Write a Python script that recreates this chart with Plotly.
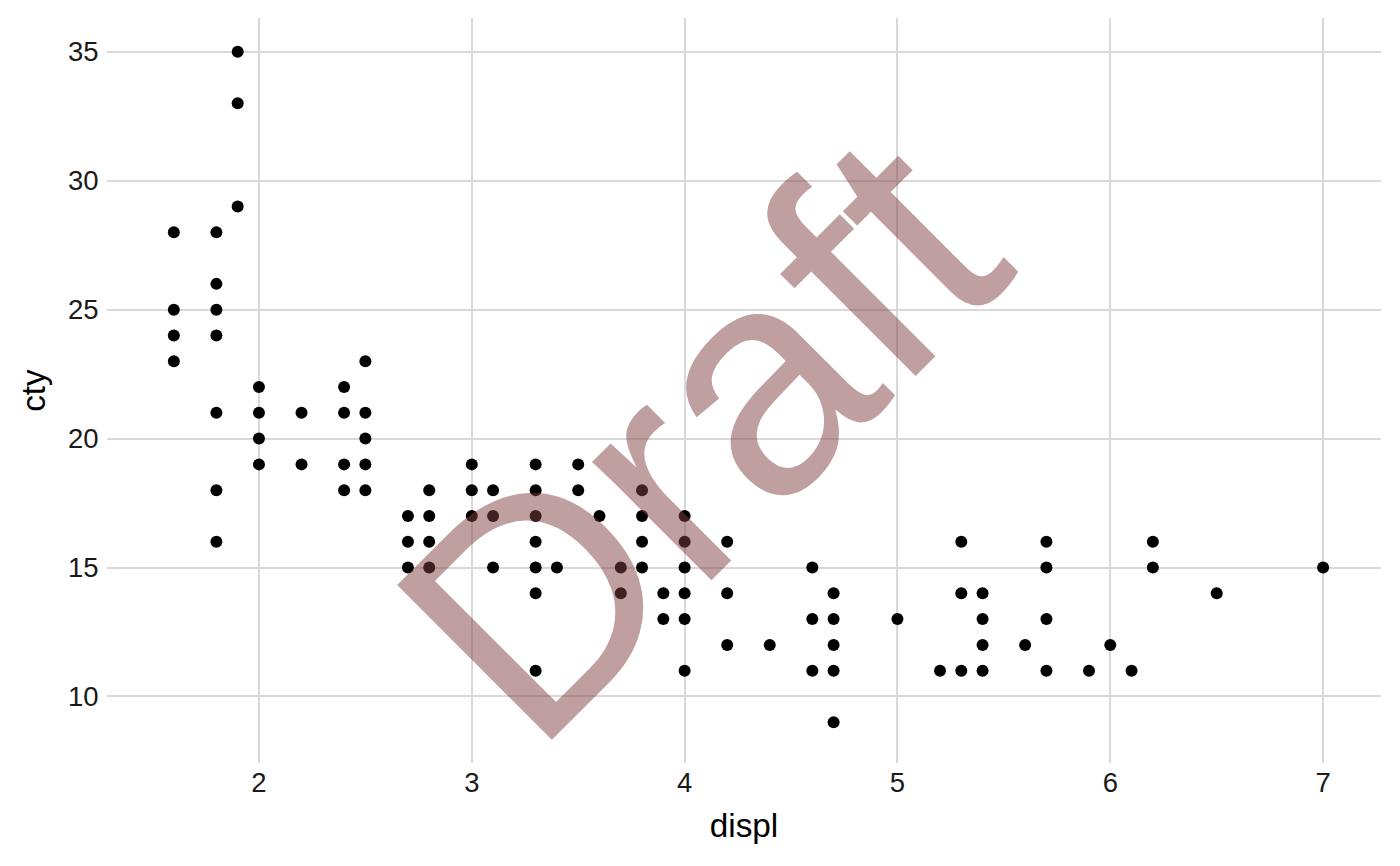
import plotly.graph_objects as go

displ = [1.6, 1.6, 1.6, 1.6,
         1.8, 1.8, 1.8, 1.8, 1.8, 1.8, 1.8,
         1.9, 1.9, 1.9,
         2.0, 2.0, 2.0, 2.0,
         2.2, 2.2,
         2.4, 2.4, 2.4, 2.4,
         2.5, 2.5, 2.5, 2.5, 2.5,
         2.7, 2.7, 2.7,
         2.8, 2.8, 2.8, 2.8,
         3.0, 3.0, 3.0,
         3.1, 3.1, 3.1,
         3.3, 3.3, 3.3, 3.3, 3.3, 3.3, 3.3,
         3.4,
         3.5, 3.5,
         3.6,
         3.7, 3.7,
         3.8, 3.8, 3.8, 3.8,
         3.9, 3.9,
         4.0, 4.0, 4.0, 4.0, 4.0, 4.0,
         4.2, 4.2, 4.2,
         4.4,
         4.6, 4.6, 4.6,
         4.7, 4.7, 4.7, 4.7, 4.7,
         5.0,
         5.2,
         5.3, 5.3, 5.3,
         5.4, 5.4, 5.4, 5.4,
         5.6,
         5.7, 5.7, 5.7, 5.7,
         5.9,
         6.0,
         6.1,
         6.2, 6.2,
         6.5,
         7.0]
cty = [28, 25, 24, 23,
       28, 26, 25, 24, 21, 18, 16,
       35, 33, 29,
       22, 21, 20, 19,
       21, 19,
       22, 21, 19, 18,
       23, 21, 20, 19, 18,
       17, 16, 15,
       18, 17, 16, 15,
       19, 18, 17,
       18, 17, 15,
       19, 18, 17, 16, 15, 14, 11,
       15,
       19, 18,
       17,
       15, 14,
       18, 17, 16, 15,
       14, 13,
       17, 16, 15, 14, 13, 11,
       16, 14, 12,
       12,
       15, 13, 11,
       14, 13, 12, 11, 9,
       13,
       11,
       16, 14, 11,
       14, 13, 12, 11,
       12,
       16, 15, 13, 11,
       11,
       12,
       11,
       16, 15,
       14,
       15]

x_ticks = [2, 3, 4, 5, 6, 7]
y_ticks = [10, 15, 20, 25, 30, 35]
watermark = "Draft"

FONT = "Liberation Sans, Arial, Helvetica, sans-serif"
GRID = "#D9D9D9"

fig = go.Figure()
fig.add_trace(go.Scatter(
    x=displ, y=cty, mode="markers",
    marker=dict(color="black", size=12, line=dict(width=0)),
    hoverinfo="x+y", showlegend=False,
))

fig.add_annotation(
    x=4.066, y=20.1, xref="x", yref="y",
    text=watermark, showarrow=False, textangle=-45,
    xanchor="center", yanchor="middle",
    font=dict(family=FONT, size=318, color="rgba(128,64,64,0.5)"),
)

# the page body adds an 8px offset, so the figure is drawn 8px smaller
fig.update_layout(
    width=1392, height=858,
    margin=dict(l=99, r=19, t=10, b=103),
    paper_bgcolor="white", plot_bgcolor="white",
    font=dict(family=FONT, color="#1a1a1a"),
    xaxis=dict(
        range=[1.286, 7.272], tickvals=x_ticks, ticktext=[str(v) for v in x_ticks],
        showgrid=True, gridcolor=GRID, gridwidth=2, zeroline=False, showline=False,
        ticks="", tickfont=dict(size=27.5, color="#1a1a1a"),
        title=dict(text="displ", font=dict(size=33.3, color="black"), standoff=17),
        automargin=False,
    ),
    yaxis=dict(
        range=[7.42, 36.31], tickvals=y_ticks, ticktext=[str(v) for v in y_ticks],
        showgrid=True, gridcolor=GRID, gridwidth=2, zeroline=False, showline=False,
        ticks="outside", ticklen=2, tickcolor="rgba(0,0,0,0)",
        tickfont=dict(size=27.5, color="#1a1a1a"),
        title=dict(text="cty", font=dict(size=33.3, color="black"), standoff=12),
        automargin=False,
    ),
)

fig.write_html("out.html")
